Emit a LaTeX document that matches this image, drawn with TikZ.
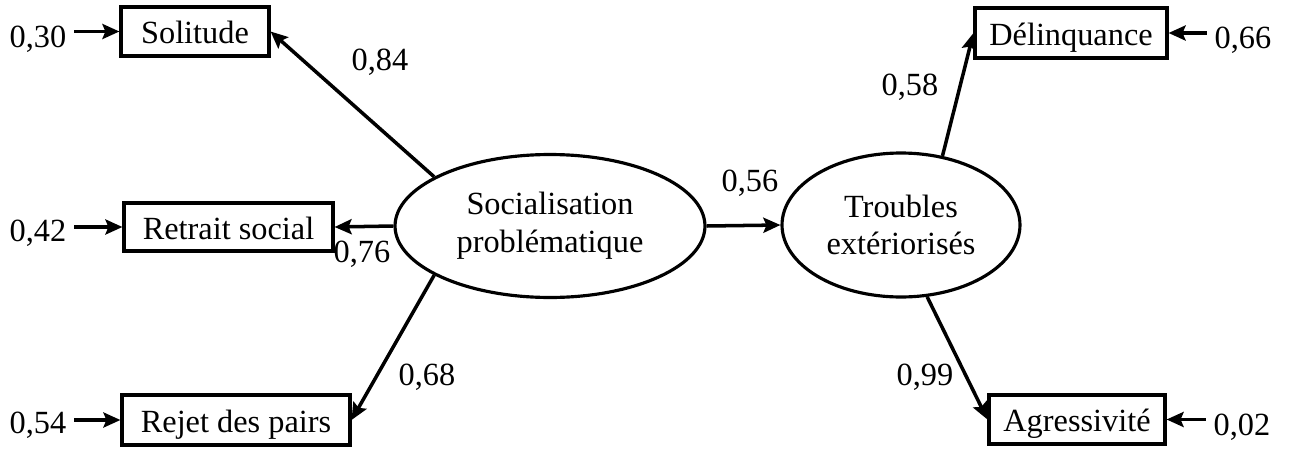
\documentclass[tikz,border=0pt]{standalone}
\usepackage{fontspec}
\setmainfont{Liberation Serif}
\usetikzlibrary{shapes.geometric,arrows.meta}
\begin{document}
\begin{tikzpicture}[x=0.02cm,y=-0.02cm,
  font=\fontsize{18.4}{21.5}\selectfont,
  box/.style={draw,line width=1.8pt,inner sep=0pt,text height=0.55cm,text depth=0.07cm},
  latent/.style={draw,ellipse,line width=1.8pt,inner sep=0pt,align=center},
  val/.style={inner sep=0pt},
  errlab/.style={inner sep=0.15cm},
  arr/.style={line width=2pt,-{Stealth[length=0.34cm,width=0.3cm,inset=0.06cm]}}]
\useasboundingbox (0,0) rectangle (1289,450);
% observed variables
\node[box,minimum width=2.96cm,minimum height=0.98cm] (sol) at (195,31.5) {Solitude};
\node[box,minimum width=4.18cm,minimum height=0.96cm] (ret) at (228.5,227) {Retrait social};
\node[box,minimum width=4.56cm,minimum height=1.0cm] (rej) at (236,420) {Rejet des pairs};
\node[box,minimum width=3.84cm,minimum height=1.0cm] (del) at (1071,33) {Délinquance};
\node[box,minimum width=3.52cm,minimum height=0.98cm] (agr) at (1077,419.5) {Agressivité};
% latent variables
\node[latent,minimum width=6.2cm,minimum height=2.86cm] (soc) at (550,226) {Socialisation\\problématique};
\node[latent,minimum width=4.76cm,minimum height=2.88cm] (tro) at (901,225) {Troubles\\extériorisés};
% error terms
\node[errlab] (e30) at (38,39) {0,30};
\node[errlab] (e42) at (38,233) {0,42};
\node[errlab] (e54) at (38,425) {0,54};
\node[errlab] (e66) at (1243,40) {0,66};
\node[errlab] (e02) at (1242,427) {0,02};
\draw[arr] (e30.east |- sol.west) -- (sol.west);
\draw[arr] (e42.east |- ret.west) -- (ret.west);
\draw[arr] (e54.east |- rej.west) -- (rej.west);
\draw[arr] (e66.west |- del.east) -- (del.east);
\draw[arr] (e02.west |- agr.east) -- (agr.east);
% loadings
\draw[arr] (soc.157) -- (sol.east);
\draw[arr] (soc.west) -- (ret.east);
\draw[arr] (soc.203) -- (rej.east);
\draw[arr] (soc.east) -- (tro.west);
\draw[arr] (tro.59) -- (del.west);
\draw[arr] (tro.-70) -- (agr.west);
% loading labels
\node[val] (l84) at (380,62) {0,84};
\node[val] (l76) at (362,254) {0,76};
\node[val] (l68) at (427,377) {0,68};
\node[val] (l56) at (750,183) {0,56};
\node[val] (l58) at (910,87) {0,58};
\node[val] (l99) at (925,377) {0,99};
\end{tikzpicture}
\end{document}
